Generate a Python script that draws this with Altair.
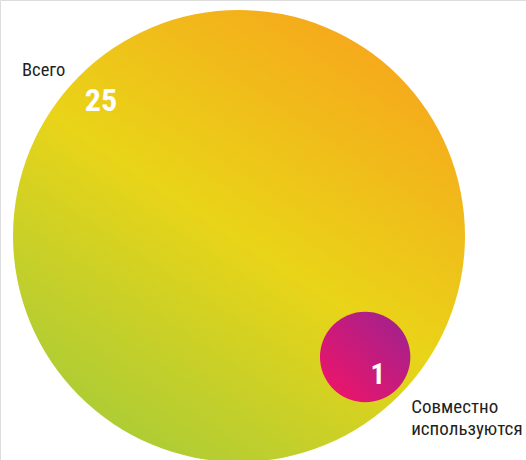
import math
import altair as alt
import pandas as pd

# ---- data ----
categories = ["Всего", "Совместно используются"]
values = [25, 1]
value_labels = ["25", "1"]

# ---- layout (computed from values) ----
W, H = 526, 460
unit_r = 45.2                      # radius (px) of a circle with value 1
radii = [unit_r * math.sqrt(v) for v in values]
big_cx, big_cy = 239, 236
angle = math.radians(43.8)         # direction of the inner circle from the big centre
gap = 6
dist = radii[0] - radii[1] - gap
small_cx = big_cx + dist * math.cos(angle)
small_cy = big_cy + dist * math.sin(angle)

df = pd.DataFrame({
    "category": categories,
    "value": values,
    "label": value_labels,
    "cx": [big_cx, small_cx],
    "cy": [big_cy, small_cy],
})

size_max = (2 * radii[0]) ** 2     # Vega circle size = diameter^2
x_enc = alt.X("cx:Q", scale=alt.Scale(domain=[0, W]), axis=None)
y_enc = alt.Y("cy:Q", scale=alt.Scale(domain=[0, H], reverse=True), axis=None)
size_enc = alt.Size("value:Q", scale=alt.Scale(domain=[0, 25], range=[0, size_max]), legend=None)

big_grad = alt.LinearGradient(
    gradient="linear",
    stops=[
        alt.GradientStop(color="#A3CB3A", offset=0),
        alt.GradientStop(color="#E9D418", offset=0.5),
        alt.GradientStop(color="#F8A21C", offset=1),
    ],
    x1=0.17, y1=1.0, x2=0.83, y2=0.0,
)
small_grad = alt.LinearGradient(
    gradient="linear",
    stops=[
        alt.GradientStop(color="#EA156B", offset=0),
        alt.GradientStop(color="#A4218C", offset=1),
    ],
    x1=0.15, y1=0.9, x2=0.9, y2=0.1,
)

base = alt.Chart(df).encode(x=x_enc, y=y_enc)
FONT = "Roboto Condensed, Liberation Sans Narrow, DejaVu Sans Condensed, Roboto"

big = base.transform_filter(alt.datum.value == 25).mark_circle(
    fill=big_grad, opacity=1
).encode(size=size_enc)
small = base.transform_filter(alt.datum.value == 1).mark_circle(
    fill=small_grad, opacity=1
).encode(size=size_enc)

big_name = base.transform_filter(alt.datum.value == 25).mark_text(
    align="left", baseline="alphabetic", dx=-217, dy=-160,
    font=FONT, fontSize=18.5, color="#231F20"
).encode(text="category:N")
big_num = base.transform_filter(alt.datum.value == 25).mark_text(
    align="center", baseline="alphabetic", dx=-138, dy=-125,
    font=FONT, fontSize=32, fontWeight="bold", color="white"
).encode(text="label:N")
small_num = base.transform_filter(alt.datum.value == 1).mark_text(
    align="right", baseline="alphabetic", dx=20, dy=27,
    font=FONT, fontSize=29, fontWeight="bold", color="white"
).encode(text="label:N")
small_name = base.transform_filter(alt.datum.value == 1).mark_text(
    align="left", baseline="alphabetic", dx=46, dy=56, lineHeight=22,
    font=FONT, fontSize=19, color="#231F20"
).encode(text=alt.Text("lines:N")).transform_calculate(
    lines="split(datum.category, ' ')"
)

chart = alt.layer(big, small, big_name, big_num, small_num, small_name).properties(
    width=W, height=H,
    autosize=alt.AutoSizeParams(type="none"),
    padding=0,
).configure_view(stroke=None).configure(background="white")

chart.save("out.html", embed_options={"renderer": "svg", "actions": False})
